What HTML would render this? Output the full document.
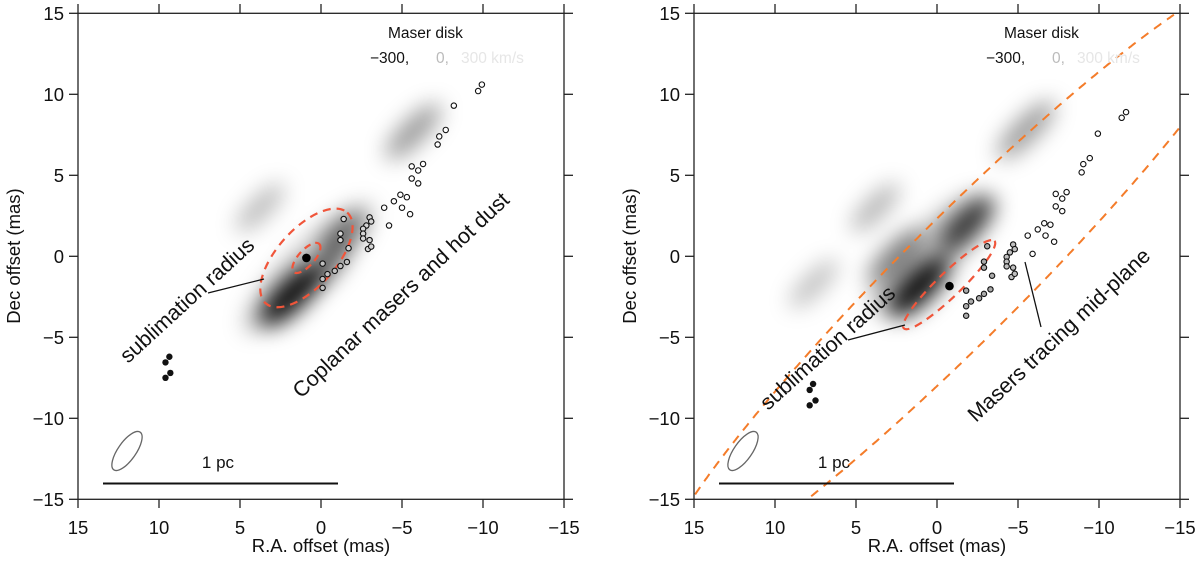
<!DOCTYPE html>
<html><head><meta charset="utf-8">
<style>
html,body{margin:0;padding:0;background:#fff;width:1200px;height:562px;overflow:hidden;}
svg{display:block;font-family:"Liberation Sans",Arial,sans-serif;}
</style></head>
<body>
<svg id="fig" width="1200" height="562" viewBox="0 0 1200 562" xmlns="http://www.w3.org/2000/svg">
<defs>
<filter id="blur" x="-50%" y="-50%" width="200%" height="200%"><feGaussianBlur stdDeviation="11"/></filter>
<clipPath id="clipL"><rect x="78" y="13.3" width="486" height="486"/></clipPath>
<clipPath id="clipR"><rect x="694" y="13.3" width="486" height="486"/></clipPath>
</defs>
</svg>
<script>
// ---- data (mas / km/s) ----
const xTicks = [15, 10, 5, 0, -5, -10, -15];
const yTicks = [15, 10, 5, 0, -5, -10, -15];
const xTickLabels = ["15","10","5","0","\u22125","\u221210","\u221215"];
const yTickLabels = ["15","10","5","0","\u22125","\u221210","\u221215"];

// left panel masers
const leftRA  = [-9.93,-9.7,-8.2,-7.7,-7.3,-7.2,-6.3,-5.6,-6.0,-5.6,-6.0,-4.9,-5.3,-4.5,-3.9,-5.0,-5.5,-4.2,-3.0,-3.1,-2.8,-2.6,-2.6,-2.6,-3.0,-2.9,-3.1,-1.4,-1.2,-1.2,-1.7,-1.6,-1.2,-0.85,-0.4,-0.1,-0.1,-0.1];
const leftDec = [10.6,10.2,9.3,7.8,7.4,6.9,5.7,5.55,5.3,4.8,4.5,3.8,3.65,3.4,3.0,3.0,2.6,1.9,2.4,2.15,1.9,1.7,1.4,1.1,1.0,0.45,0.6,2.3,1.4,1.0,0.5,-0.35,-0.6,-0.9,-1.1,-0.45,-1.4,-1.95];
const leftVel = [300,300,300,300,300,300,300,300,300,300,300,300,300,300,300,300,300,300,200,200,200,200,200,200,200,200,200,200,200,200,200,150,150,150,150,150,150,150];
const leftBlueRA  = [9.36,9.6,9.3,9.6];
const leftBlueDec = [-6.2,-6.55,-7.2,-7.5];
const leftCenter = [0.9,-0.1];

// right panel masers
const rightRA  = [-11.67,-11.4,-9.93,-9.43,-9.03,-8.93,-8.0,-7.33,-7.73,-7.33,-7.73,-6.62,-7.0,-6.22,-5.6,-6.7,-7.23,-5.9,-4.7,-4.8,-4.5,-4.3,-4.3,-4.3,-4.7,-4.6,-4.8,-3.1,-2.9,-2.9,-3.4,-3.3,-2.9,-2.6,-2.1,-1.8,-1.8,-1.8];
const rightDec = [8.9,8.55,7.57,6.06,5.69,5.18,3.96,3.85,3.56,3.08,2.79,2.04,1.95,1.66,1.28,1.28,0.9,0.15,0.73,0.44,0.24,-0.04,-0.33,-0.62,-0.7,-1.28,-1.08,0.62,-0.33,-0.7,-1.2,-2.04,-2.32,-2.59,-2.79,-2.12,-3.08,-3.67];
const rightVel = [300,300,300,300,300,300,300,300,300,300,300,300,300,300,300,300,300,300,150,150,150,150,150,150,150,150,150,100,100,100,100,100,100,100,100,100,100,100];
const rightBlueRA  = [7.65,7.86,7.5,7.86];
const rightBlueDec = [-7.88,-8.25,-8.9,-9.2];
const rightCenter = [-0.77,-1.84];

// continuum blobs: centre RA, Dec, half-length, half-width (mas), peak intensity
const leftBlobRA  = [-5.7,3.75,0.8,1.8,-1.3,-0.2];
const leftBlobDec = [7.7,3.0,-0.7,-2.4,1.3,-0.9];
const leftBlobLen = [2.3,2.0,5.5,2.6,1.8,2.0];
const leftBlobWid = [0.75,0.65,1.4,0.95,0.75,0.65];
const leftBlobInt = [0.4,0.28,0.22,0.95,0.55,0.45];
const rightBlobRA  = [-5.5,3.8,7.6,1.1,-1.9,2.6,0.4];
const rightBlobDec = [7.8,3.0,-1.7,-1.9,2.0,0.0,0.2];
const rightBlobLen = [2.4,2.0,2.0,2.5,2.2,2.3,5.0];
const rightBlobWid = [0.75,0.65,0.65,0.95,0.85,0.75,1.6];
const rightBlobInt = [0.4,0.3,0.25,0.95,0.75,0.45,0.25];

const SC = 16.2, Y0 = 256.3;
const svg = document.getElementById('fig');
const NS = 'http://www.w3.org/2000/svg';
function mk(tag, attrs, parent){ const e=document.createElementNS(NS,tag); for(const k in attrs) e.setAttribute(k,attrs[k]); (parent||svg).appendChild(e); return e; }
function velColor(v){ const g=Math.round(128+127*v/300); return `rgb(${g},${g},${g})`; }

// ellipse path restricted to a box (avoids geometry outside frame)
function clippedEllipsePath(cx,cy,rx,ry,angDeg,bx0,by0,bx1,by1){
  const a=angDeg*Math.PI/180, ca=Math.cos(a), sa=Math.sin(a);
  let d='', pen=false;
  for(let i=0;i<=1440;i++){
    const t=i/1440*2*Math.PI;
    const ex=rx*Math.cos(t), ey=ry*Math.sin(t);
    const x=cx+ex*ca-ey*sa, y=cy+ex*sa+ey*ca;
    if(x>=bx0&&x<=bx1&&y>=by0&&y<=by1){ d+=(pen?'L':'M')+x.toFixed(1)+' '+y.toFixed(1)+' '; pen=true; }
    else pen=false;
  }
  return d;
}

function panel(side, x0, ra, dec, vel, bra, bdec, cen, bRA,bDec,bLen,bWid,bInt){
  const X = r => x0 + (15 - r)*SC;
  const Y = d => Y0 - d*SC;
  const g = mk('g',{});
  
  
  const plot = mk('g',{'clip-path':`url(#clip${side==='left'?'L':'R'})`},g);
  
  
  const bg = mk('g',{filter:'url(#blur)'},plot);
  for(let i=0;i<bRA.length;i++){
    const e = mk('ellipse',{cx:X(bRA[i]),cy:Y(bDec[i]),rx:bLen[i]*SC,ry:bWid[i]*SC,fill:'#000','fill-opacity':bInt[i],transform:`rotate(-45 ${X(bRA[i])} ${Y(bDec[i])})`},bg);
    
    
  }
  if(side==='right'){
    const big = mk('path',{d:clippedEllipsePath(X(-1.5),Y(-1.4),425,60,-45,x0+1,14.5,x0+485,498),fill:'none',stroke:'#f47c2a','stroke-width':2,'stroke-dasharray':'9 7'},plot);
    
    
    const sub = mk('ellipse',{cx:X(-0.75),cy:Y(-1.75),rx:63,ry:12,fill:'none',stroke:'#f0553a','stroke-width':2.2,'stroke-dasharray':'8 6',transform:`rotate(-44 ${X(-0.75)} ${Y(-1.75)})`},plot);
    
    
  } else {
    const o = mk('ellipse',{cx:X(0.9),cy:Y(-0.1),rx:61,ry:29,fill:'none',stroke:'#f0553a','stroke-width':2.2,'stroke-dasharray':'8 6',transform:`rotate(-48 ${X(0.9)} ${Y(-0.1)})`},plot);
    
    
    const inn = mk('ellipse',{cx:X(0.9),cy:Y(-0.1),rx:19,ry:8,fill:'none',stroke:'#f0553a','stroke-width':2.2,'stroke-dasharray':'7 5',transform:`rotate(-48 ${X(0.9)} ${Y(-0.1)})`},plot);
    
    
  }
  for(let i=0;i<ra.length;i++){
    const c = mk('circle',{cx:X(ra[i]),cy:Y(dec[i]),r:2.7,fill:velColor(vel[i]),stroke:'#111','stroke-width':1.1},plot);
    
    
  }
  for(let i=0;i<bra.length;i++){
    const c = mk('circle',{cx:X(bra[i]),cy:Y(bdec[i]),r:3.2,fill:'#111'},plot);
    
    
  }
  const cd = mk('circle',{cx:X(cen[0]),cy:Y(cen[1]),r:4.3,fill:'#000'},plot);
  
  
  const bm = mk('ellipse',{cx:x0+49,cy:451,rx:23,ry:9,fill:'none',stroke:'#666','stroke-width':1.3,transform:`rotate(-55 ${x0+49} 451)`},g);
  
  
  const sb = mk('line',{x1:x0+25,x2:x0+260,y1:483.5,y2:483.5,stroke:'#111','stroke-width':2},g);
  
  
  const sbt = mk('text',{x:x0+140,y:468,'font-size':17,'text-anchor':'middle',fill:'#111'},g); sbt.textContent='1 pc';
  
  
  const lt = mk('text',{x:x0+310,y:38,'font-size':15.5,fill:'#111'},g); lt.textContent='Maser disk';
  
  
  const l1 = mk('text',{x:x0+292,y:63,'font-size':15.5,fill:'#111'},g); l1.textContent='\u2212300,';
  
  
  const l2 = mk('text',{x:x0+358,y:63,'font-size':15.5,fill:'#bbb'},g); l2.textContent='0,';
  
  
  const l3 = mk('text',{x:x0+383,y:63,'font-size':15.5,fill:'#e6e6e6'},g); l3.textContent='300 km/s';
  
  
  const fr = mk('rect',{x:x0,y:13.3,width:486,height:486,fill:'none',stroke:'#222','stroke-width':1.3},g);
  
  
  xTicks.forEach((t,i)=>{
    mk('line',{x1:X(t),x2:X(t),y1:499.3,y2:508,stroke:'#222','stroke-width':1.3},g);
    mk('line',{x1:X(t),x2:X(t),y1:13.3,y2:4,stroke:'#222','stroke-width':1.3},g);
    const tl = mk('text',{x:X(t),y:534,'font-size':18.5,'text-anchor':'middle',fill:'#111'},g); tl.textContent=xTickLabels[i];
    
    
  });
  yTicks.forEach((t,i)=>{
    mk('line',{x1:x0-9,x2:x0,y1:Y(t),y2:Y(t),stroke:'#222','stroke-width':1.3},g);
    mk('line',{x1:x0+486,x2:x0+495,y1:Y(t),y2:Y(t),stroke:'#222','stroke-width':1.3},g);
    const tl = mk('text',{x:x0-14,y:Y(t)+6.5,'font-size':18.5,'text-anchor':'end',fill:'#111'},g); tl.textContent=yTickLabels[i];
    
    
  });
  const xt = mk('text',{x:x0+243,y:552,'font-size':18.5,'text-anchor':'middle',fill:'#111'},g); xt.textContent='R.A. offset (mas)';
  
  
  const yt = mk('text',{x:0,y:0,'font-size':18.5,'text-anchor':'middle',fill:'#111',transform:`translate(${x0-58} 256) rotate(-90)`},g); yt.textContent='Dec offset (mas)';
  
  
  return g;
}

panel('left',78,leftRA,leftDec,leftVel,leftBlueRA,leftBlueDec,leftCenter,leftBlobRA,leftBlobDec,leftBlobLen,leftBlobWid,leftBlobInt);
panel('right',694,rightRA,rightDec,rightVel,rightBlueRA,rightBlueDec,rightCenter,rightBlobRA,rightBlobDec,rightBlobLen,rightBlobWid,rightBlobInt);

function label(txt,x,y,ang,size,name){
  const t = mk('text',{x:0,y:0,'font-size':size,fill:'#111',transform:`translate(${x} ${y}) rotate(${ang})`});
  t.textContent = txt;
  
  
}
function leader(x1,y1,x2,y2,name){
  const l = mk('line',{x1,y1,x2,y2,stroke:'#111','stroke-width':1.3});
  
  
}
label('sublimation radius',128,364,-42.5,21.5,'sublimation-radius-label-left');
leader(208,293,264,279,'sublimation-leader-left');
label('Coplanar masers and hot dust',301,399,-43.3,21.5,'coplanar-masers-label');
label('sublimation radius',768,411,-42,21.5,'sublimation-radius-label-right');
leader(848,340,905,325,'sublimation-leader-right');
label('Masers tracing mid-plane',976,423,-43.3,21.5,'masers-midplane-label');
leader(1025,262,1041,327,'midplane-leader');
</script>
</body></html>
